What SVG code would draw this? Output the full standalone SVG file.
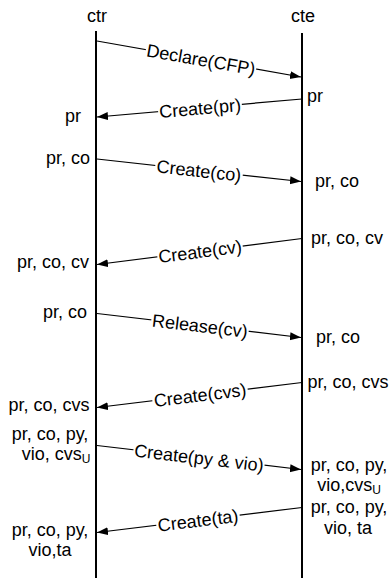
<svg xmlns="http://www.w3.org/2000/svg" width="391" height="578" viewBox="0 0 391 578">
<style>
text{font-family:"Liberation Sans",Arial,sans-serif;font-size:18px;fill:#000}
.ll{stroke:#000;stroke-width:2;fill:none}
.msg{stroke:#000;stroke-width:1.2;fill:none;marker-end:url(#ah)}
.bg{fill:#fff}
.lbl{text-anchor:middle}
.sub{font-size:12px}
</style>
<defs>
<marker id="ah" markerUnits="userSpaceOnUse" markerWidth="12" markerHeight="10" refX="11" refY="4" orient="auto">
<path d="M0,0 L11,4 L0,8 Z" fill="#000"/>
</marker>
</defs>
<g id="ctr">
<text x="97" y="22" class="lbl">ctr</text>
<line class="ll" x1="96" y1="31" x2="96" y2="578"/>
</g>
<g id="cte">
<text x="303" y="22" class="lbl">cte</text>
<line class="ll" x1="302" y1="33" x2="302" y2="578"/>
</g>
<g id="connectors">
<line class="msg" x1="97" y1="41" x2="301" y2="77"/>
<line class="msg" x1="302" y1="99" x2="97" y2="117"/>
<line class="msg" x1="97" y1="159" x2="301" y2="181.5"/>
<line class="msg" x1="302" y1="238.5" x2="97" y2="264.5"/>
<line class="msg" x1="97" y1="313.5" x2="301" y2="337.5"/>
<line class="msg" x1="302" y1="382.5" x2="97" y2="407.5"/>
<line class="msg" x1="97" y1="445.5" x2="301" y2="469.5"/>
<line class="msg" x1="302" y1="507.5" x2="97" y2="532.5"/>
<g transform="translate(201,59.4) rotate(10)"><rect class="bg" x="-56" y="-7.5" width="112" height="15"/><text class="lbl" y="6.5">Declare(CFP)</text></g>
<g transform="translate(200,108) rotate(-5)"><rect class="bg" x="-42" y="-7.5" width="84" height="15"/><text class="lbl" y="6.5">Create(pr)</text></g>
<g transform="translate(199,170.5) rotate(6.3)"><rect class="bg" x="-44" y="-7.5" width="88" height="15"/><text class="lbl" y="6.5">Create(co)</text></g>
<g transform="translate(200,251.3) rotate(-7.2)"><rect class="bg" x="-43" y="-7.5" width="86" height="15"/><text class="lbl" y="6.5">Create(cv)</text></g>
<g transform="translate(200,325.6) rotate(6.7)"><rect class="bg" x="-49" y="-7.5" width="98" height="15"/><text class="lbl" y="6.5">Release(cv)</text></g>
<g transform="translate(200,395) rotate(-7)"><rect class="bg" x="-48" y="-7.5" width="96" height="15"/><text class="lbl" y="6.5">Create(cvs)</text></g>
<g transform="translate(199,457.6) rotate(6.6)"><rect class="bg" x="-66" y="-7.5" width="132" height="15"/><text class="lbl" y="6.5">Create(py &amp; vio)</text></g>
<g transform="translate(198,520.3) rotate(-7)"><rect class="bg" x="-42" y="-7.5" width="84" height="15"/><text class="lbl" y="6.5">Create(ta)</text></g>
</g>
<g id="states" text-anchor="middle">
<text x="73" y="122">pr</text>
<text x="315" y="102">pr</text>
<text x="68" y="164">pr, co</text>
<text x="337" y="187">pr, co</text>
<text x="53" y="268">pr, co, cv</text>
<text x="347" y="244">pr, co, cv</text>
<text x="65" y="318">pr, co</text>
<text x="338" y="343">pr, co</text>
<text x="49" y="411">pr, co, cvs</text>
<text x="348" y="388">pr, co, cvs</text>
<text x="50" y="440">pr, co, py,</text>
<text x="56" y="460">vio, cvs<tspan class="sub" dy="3">U</tspan></text>
<text x="349" y="471">pr, co, py,</text>
<text x="349" y="491">vio,cvs<tspan class="sub" dy="3">U</tspan></text>
<text x="349" y="513">pr, co, py,</text>
<text x="348" y="534">vio, ta</text>
<text x="50" y="536">pr, co, py,</text>
<text x="50" y="556">vio,ta</text>
</g>
</svg>
